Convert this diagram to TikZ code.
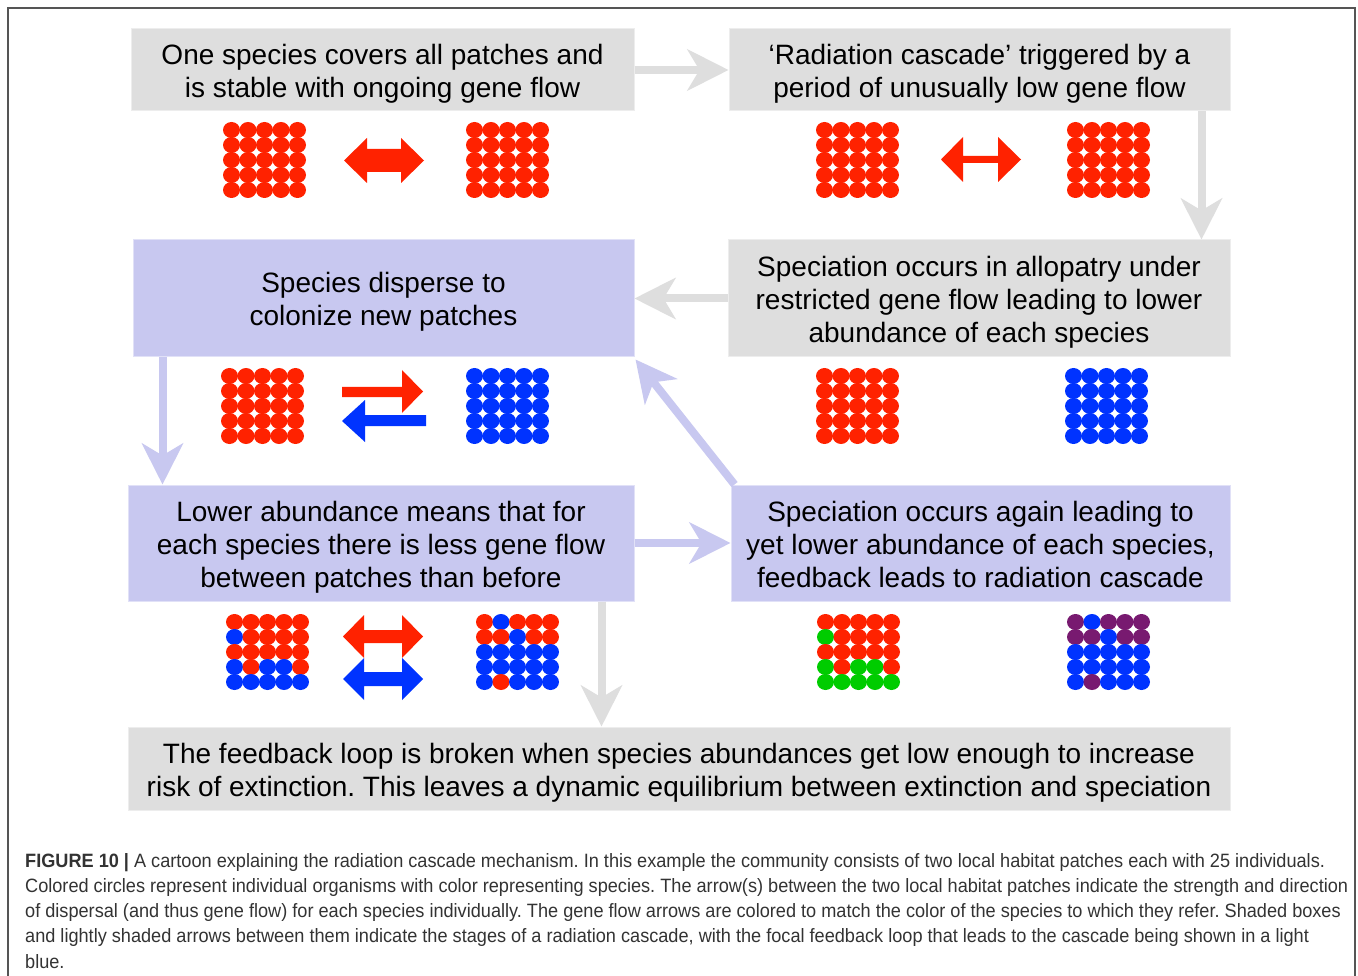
\documentclass[tikz,border=0pt]{standalone}
\usepackage{fontspec}
\setmainfont{Liberation Sans}
\newfontfamily\capfont[FakeStretch=0.94]{Liberation Sans}
\usetikzlibrary{arrows.meta}
\frenchspacing
\definecolor{boxgray}{HTML}{DEDEDE}
\definecolor{lav}{HTML}{C8C8F0}
\definecolor{sred}{HTML}{FF2200}
\definecolor{sblue}{HTML}{0033FF}
\definecolor{sgreen}{HTML}{00CC00}
\definecolor{spurp}{HTML}{781A70}
\definecolor{capgray}{HTML}{333333}
\definecolor{framegray}{HTML}{555555}
\newcommand\boxfont{\fontsize{28}{33}\selectfont\frenchspacing}
\newcommand\bl[1]{\smash{#1}\rule[-2pt]{0pt}{26pt}}
\newcommand\solidgrid[3]{%
  \foreach \gc in {0,...,4}{\foreach \gr in {0,...,4}{%
    \fill[#3] ({#1+16.5*\gc},{#2+15*\gr}) ellipse [x radius=8.5, y radius=8];}}}
\newcommand\mixgrid[3]{%
  \foreach \cc [count=\ii from 0] in {#3}{%
    \pgfmathtruncatemacro\gc{mod(\ii,5)}%
    \pgfmathtruncatemacro\gr{div(\ii,5)}%
    \fill[\cc] ({#1+16.5*\gc},{#2+15*\gr}) ellipse [x radius=8.5, y radius=8];}}
\tikzset{
  graybox/.style={fill=boxgray, draw=boxgray!55!white, line width=1pt, inner sep=0pt, align=center, font=\boxfont, text=black},
  lavbox/.style={fill=lav, draw=lav!55!white, line width=1pt, inner sep=0pt, align=center, font=\boxfont, text=black},
  gconn/.style={draw=boxgray, line width=8pt, -{Stealth[length=41pt,width=41pt,inset=12pt]}},
  lconn/.style={draw=lav, line width=8pt, -{Stealth[length=41pt,width=41pt,inset=12pt]}},
}
\begin{document}
\begin{tikzpicture}[x=1pt,y=-1pt]
\useasboundingbox (0,0) rectangle (1358,976);
\fill[white] (0,0) rectangle (1358,976);
\draw[framegray, line width=1.5pt] (8,976) -- (8,8) -- (1355,8) -- (1355,976);

% boxes
\node[graybox, minimum width=503pt, minimum height=82pt] (b1) at (382.5,70)
  {\bl{One species covers all patches and}\\\bl{is stable with ongoing gene flow}};
\node[graybox, minimum width=501pt, minimum height=82pt] (b2) at (979.5,70)
  {\bl{‘Radiation cascade’ triggered by a}\\\bl{period of unusually low gene flow}};
\node[lavbox, minimum width=501pt, minimum height=117pt] (b3) at (383.5,298.5)
  {\bl{Species disperse to}\\\bl{colonize new patches}};
\node[graybox, minimum width=502pt, minimum height=117pt] (b4) at (979,298.5)
  {\bl{Speciation occurs in allopatry under}\\\bl{restricted gene flow leading to lower}\\\bl{abundance of each species}};
\node[lavbox, minimum width=506pt, minimum height=116pt] (b5) at (381,543)
  {\bl{Lower abundance means that for}\\\bl{each species there is less gene flow}\\\bl{between patches than before}};
\node[lavbox, minimum width=499pt, minimum height=116pt] (b6) at (980.5,543)
  {\bl{Speciation occurs again leading to}\\\bl{yet lower abundance of each species,}\\\bl{feedback leads to radiation cascade}};
\node[graybox, minimum width=1102pt, minimum height=83pt] (b7) at (679,768.5)
  {\bl{The feedback loop is broken when species abundances get low enough to increase}\\\bl{risk of extinction. This leaves a dynamic equilibrium between extinction and speciation}};

% connectors between stages
\coordinate (g2) at ([xshift=-29pt]b2.south east);
\coordinate (g5) at ([xshift=-33pt]b5.south east);
\coordinate (l3) at ([xshift=30pt]b3.south west);
\draw[gconn] (b1.east) -- (b2.west);
\draw[gconn] (g2) -- (g2 |- b4.north);
\draw[gconn] (b4.west) -- (b3.east);
\draw[lconn] (l3) -- (l3 |- b5.north);
\draw[lconn] (b5.east) -- (b6.west);
\draw[lconn] ([xshift=4pt]b6.north west) -- ([shift={(1pt,-2pt)}]b3.south east);
\draw[gconn] (g5) -- (g5 |- b7.north);

% row 1 patches
\solidgrid{231.5}{130}{sred}
\solidgrid{474.5}{130}{sred}
\solidgrid{824.5}{130}{sred}
\solidgrid{1075.5}{130}{sred}
\fill[sred] (344,160.5) -- (367,138) -- (367,149) -- (401,149) -- (401,138) -- (424,160.5)
  -- (401,183) -- (401,172) -- (367,172) -- (367,183) -- cycle;
\fill[sred] (941,159.5) -- (963,137) -- (963,156) -- (998,156) -- (998,137) -- (1021,159.5)
  -- (998,182) -- (998,163) -- (963,163) -- (963,182) -- cycle;

% row 2 patches
\solidgrid{229.5}{376}{sred}
\solidgrid{474.5}{376}{sblue}
\solidgrid{824.5}{376}{sred}
\solidgrid{1073.5}{376}{sblue}
\fill[sred] (342,387) -- (402,387) -- (402,370) -- (423,391.5) -- (402,413) -- (402,397) -- (342,397) -- cycle;
\fill[sblue] (426,415) -- (365,415) -- (365,400) -- (342,421) -- (365,442) -- (365,426) -- (426,426) -- cycle;

% row 3 patches
\mixgrid{234.5}{622}{sred,sred,sred,sred,sred, sblue,sred,sred,sred,sred, sred,sred,sred,sred,sred, sblue,sred,sblue,sblue,sred, sblue,sblue,sblue,sblue,sblue}
\mixgrid{484.5}{622}{sred,sblue,sred,sred,sred, sred,sred,sblue,sred,sred, sblue,sblue,sblue,sblue,sblue, sblue,sblue,sblue,sblue,sblue, sblue,sred,sblue,sblue,sblue}
\mixgrid{825.5}{622}{sred,sred,sred,sred,sred, sgreen,sred,sred,sred,sred, sred,sred,sred,sred,sred, sgreen,sred,sgreen,sgreen,sred, sgreen,sgreen,sgreen,sgreen,sgreen}
\mixgrid{1075.5}{622}{spurp,sblue,spurp,spurp,spurp, spurp,spurp,sblue,spurp,spurp, sblue,sblue,sblue,sblue,sblue, sblue,sblue,sblue,sblue,sblue, sblue,spurp,sblue,sblue,sblue}
\fill[sred] (343,636.5) -- (364,615) -- (364,630) -- (402,630) -- (402,615) -- (423,636.5)
  -- (402,658) -- (402,643) -- (364,643) -- (364,658) -- cycle;
\fill[sblue] (343,679) -- (364,658) -- (364,672) -- (402,672) -- (402,658) -- (423,679)
  -- (402,700) -- (402,686) -- (364,686) -- (364,700) -- cycle;

% caption
\node[anchor=base west, align=left, inner sep=0pt, text=capgray,
      font=\capfont\fontsize{19.3}{25.2}\selectfont\frenchspacing] (cap) at (25,968)
{\textbf{FIGURE 10 |} A cartoon explaining the radiation cascade mechanism. In this example the community consists of two local habitat patches each with 25 individuals.\\
Colored circles represent individual organisms with color representing species. The arrow(s) between the two local habitat patches indicate the strength and direction\\
of dispersal (and thus gene flow) for each species individually. The gene flow arrows are colored to match the color of the species to which they refer. Shaded boxes\\
and lightly shaded arrows between them indicate the stages of a radiation cascade, with the focal feedback loop that leads to the cascade being shown in a light\\
blue.};
\end{tikzpicture}
\end{document}
